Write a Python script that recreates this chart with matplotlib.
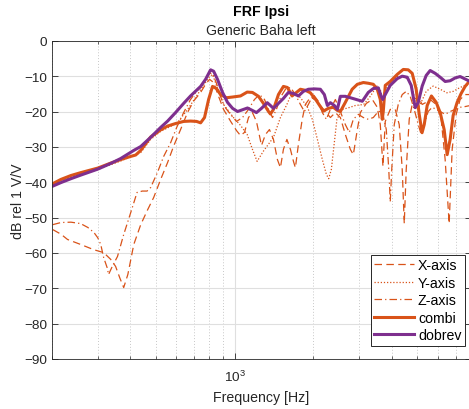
import matplotlib
matplotlib.use("Agg")
import matplotlib.pyplot as plt
from matplotlib.ticker import LogLocator, NullFormatter, FixedLocator

# ---- data (frequency in Hz, level in dB rel 1 V/V) ----
x_freq = [202, 217, 230, 258, 290, 316, 336, 351, 364, 377, 391, 412, 438, 466, 491,
          522, 555, 585, 622, 661, 697, 742, 775, 803, 832, 869, 908, 965, 1018, 1054,
          1092, 1131, 1171, 1213, 1268, 1313, 1360, 1409, 1459, 1498, 1538, 1586, 1636,
          1680, 1709, 1755, 1815, 1866, 1950, 2038, 2129, 2225, 2325, 2430, 2539, 2653,
          2772, 2846, 2948, 3027, 3190, 3364, 3514, 3608, 3694, 3770, 3939, 4116, 4263,
          4377, 4456, 4534, 4655, 4821, 5041, 5218, 5405, 5598, 5901, 6167, 6387, 6616,
          6793, 7036, 7287, 7614, 7957]
x_db = [-53.4, -54.7, -56.2, -57.6, -59.1, -59.9, -61.8, -63.8, -67.0, -69.8, -66.1,
        -57.6, -52.0, -47.7, -44.3, -39.2, -34.4, -29.8, -25.1, -20.3, -17.1, -14.6,
        -12.3, -10.9, -11.8, -15.7, -19.4, -22.7, -25.4, -26.8, -25.9, -21.7, -20.3,
        -22.8, -29.6, -26.5, -25.1, -27.9, -33.6, -35.9, -30.7, -27.9, -30.7, -34.1,
        -35.9, -29.3, -22.2, -18.0, -16.0, -16.6, -18.3, -20.0, -21.7, -20.3, -21.7,
        -26.5, -30.7, -32.2, -25.1, -20.3, -17.7, -16.6, -18.8, -23.7, -35.5, -22.8,
        -19.4, -19.4, -23.7, -36.4, -51.7, -36.4, -22.2, -16.6, -16.0, -18.0, -17.4,
        -16.6, -18.0, -22.2, -33.6, -51.7, -30.7, -20.8, -16.6, -15.2, -15.2]

y_freq = [202, 237, 300, 367, 438, 478, 522, 570, 606, 631, 662, 710, 762, 803, 824,
          859, 908, 991, 1054, 1118, 1171, 1220, 1290, 1409, 1498, 1586, 1658, 1755,
          1894, 1983, 2060, 2167, 2245, 2291, 2345, 2463, 2584, 2736, 2897, 3118, 3304,
          3504, 3608, 3672, 3737, 3939, 4178, 4416, 4615, 4779, 4978, 5127, 5405, 5748,
          6113, 6484, 6853, 7287, 7614, 7957]
y_db = [-40.8, -38.5, -36.4, -34.0, -31.6, -27.9, -25.6, -24.2, -23.1, -21.4, -19.4,
        -16.0, -12.6, -10.1, -9.5, -13.2, -18.0, -21.7, -23.9, -26.5, -30.7, -34.1,
        -31.2, -27.3, -21.7, -18.0, -14.6, -15.4, -18.5, -22.2, -27.0, -33.6, -37.8,
        -39.0, -36.4, -22.2, -19.4, -18.9, -18.3, -18.0, -15.7, -12.8, -13.7, -16.6,
        -14.3, -12.0, -10.1, -10.1, -10.9, -13.2, -19.4, -18.0, -14.3, -12.8, -13.7,
        -14.7, -14.3, -13.2, -12.6, -12.3]

z_freq = [202, 217, 237, 258, 275, 290, 300, 308, 316, 326, 330, 341, 357, 377, 401,
          424, 444, 463, 478, 507, 536, 570, 601, 639, 679, 716, 742, 775, 803, 824,
          853, 884, 916, 965, 1018, 1073, 1131, 1192, 1246, 1302, 1349, 1397, 1446,
          1498, 1566, 1636, 1709, 1786, 1850, 1916, 2002, 2092, 2167, 2245, 2325, 2430,
          2539, 2653, 2747, 2846, 2974, 3108, 3246, 3393, 3545, 3672, 3804, 3888, 3939,
          3991, 4080, 4226, 4377, 4534, 4696, 4864, 5041, 5172, 5312, 5500, 5698, 5901,
          6113, 6387, 6674, 6974, 7287, 7614, 7957]
z_db = [-52.0, -51.4, -51.3, -51.7, -52.8, -54.2, -55.7, -57.6, -61.3, -64.2, -66.1,
        -63.8, -61.0, -54.8, -48.6, -42.9, -42.5, -42.5, -41.5, -37.3, -32.7, -28.8,
        -24.5, -20.3, -16.6, -14.3, -13.2, -10.9, -9.2, -9.2, -12.0, -15.7, -18.6,
        -20.8, -22.8, -21.7, -19.4, -16.6, -15.2, -16.6, -19.4, -21.7, -19.4, -16.0,
        -13.7, -13.2, -15.2, -18.0, -20.0, -18.0, -15.2, -17.1, -20.3, -22.2, -19.4,
        -16.6, -20.0, -23.7, -25.9, -22.2, -20.8, -21.7, -22.2, -21.7, -20.0, -20.0,
        -25.1, -36.4, -45.5, -36.4, -23.7, -18.0, -15.2, -14.3, -15.7, -19.4, -23.7,
        -26.5, -23.7, -20.0, -18.8, -19.4, -20.0, -20.8, -20.0, -19.4, -18.8, -18.6,
        -18.3]

combi_freq = [202, 217, 237, 258, 300, 336, 367, 401, 419, 438, 478, 522, 555, 595,
              639, 679, 716, 742, 768, 796, 824, 853, 884, 932, 983, 1054, 1118, 1171,
              1235, 1290, 1349, 1372, 1409, 1472, 1538, 1593, 1660, 1725, 1786, 1866,
              1950, 2056, 2186, 2285, 2387, 2473, 2539, 2653, 2817, 2948, 3108, 3246,
              3393, 3514, 3608, 3672, 3704, 3770, 3939, 4189, 4416, 4615, 4779, 4950,
              5083, 5212, 5312, 5452, 5660, 5901, 6113, 6331, 6501, 6674, 6853, 7098,
              7351, 7614, 7957]
combi_db = [-40.4, -39.2, -38.1, -37.3, -36.0, -34.6, -33.6, -32.7, -32.3, -31.0,
            -27.2, -25.2, -24.1, -23.4, -22.8, -22.7, -22.8, -23.2, -21.7, -16.6,
            -12.9, -13.5, -15.2, -16.1, -15.9, -15.6, -14.5, -14.6, -15.7, -17.7,
            -20.0, -20.7, -19.4, -15.2, -12.9, -13.2, -15.6, -14.6, -13.7, -14.0,
            -14.7, -16.9, -19.9, -19.1, -18.8, -19.7, -20.0, -17.4, -13.7, -12.3,
            -11.8, -12.0, -12.3, -13.7, -16.6, -22.2, -20.0, -12.6, -11.5, -9.5,
            -8.1, -8.2, -9.2, -13.7, -20.8, -26.0, -23.7, -18.3, -15.6, -17.4, -20.3,
            -25.1, -32.2, -27.9, -21.1, -17.4, -14.9, -12.9, -11.2]

dobrev_freq = [202, 217, 237, 258, 300, 336, 367, 412, 438, 478, 522, 555, 595, 639,
               679, 742, 775, 810, 832, 861, 900, 940, 983, 1027, 1073, 1121, 1171,
               1213, 1268, 1334, 1372, 1409, 1472, 1538, 1607, 1680, 1755, 1834, 1916,
               2019, 2129, 2205, 2265, 2325, 2408, 2473, 2539, 2653, 2772, 2922, 3080,
               3246, 3393, 3545, 3640, 3688, 3770, 3939, 4189, 4377, 4574, 4737, 4906,
               5041, 5218, 5405, 5598, 5850, 6113, 6387, 6674, 6974, 7287, 7614, 7957]
dobrev_db = [-41.1, -40.1, -39.0, -38.0, -36.3, -34.7, -33.3, -31.0, -29.9, -27.3,
             -24.5, -22.7, -20.3, -17.7, -15.6, -12.9, -10.9, -8.2, -8.6, -10.9,
             -14.6, -17.4, -19.1, -20.0, -19.5, -19.0, -19.7, -20.3, -19.1, -17.5,
             -18.3, -19.1, -17.7, -16.3, -14.6, -14.9, -15.6, -14.3, -13.7, -13.6,
             -13.7, -15.2, -18.3, -17.5, -18.3, -19.4, -15.7, -15.7, -16.1, -16.6,
             -17.1, -14.6, -13.5, -13.3, -15.7, -16.6, -15.2, -12.6, -10.7, -10.0,
             -10.3, -12.6, -18.9, -17.4, -12.8, -9.8, -8.4, -9.2, -10.3, -11.5, -11.3,
             -10.5, -10.1, -10.8, -11.5]

orange = '#D95319'
purple = '#7E2F8E'
dark = '#262626'

plt.rcParams['font.family'] = ['Liberation Sans', 'DejaVu Sans']
plt.rcParams['font.size'] = 9.7

fig = plt.figure(figsize=(4.69, 4.10), dpi=100)
ax = fig.add_axes([0.1102, 0.122, 0.8935, 0.776])

ax.plot(x_freq, x_db, color=orange, lw=0.9, ls=(0, (6, 3.5)), label='X-axis')
ax.plot(y_freq, y_db, color=orange, lw=0.9, ls=(0, (1, 1.5)), label='Y-axis')
ax.plot(z_freq, z_db, color=orange, lw=0.9, ls=(0, (6, 2.5, 1, 2.5)), label='Z-axis')
ax.plot(combi_freq, combi_db, color=orange, lw=2.2, label='combi')
ax.plot(dobrev_freq, dobrev_db, color=purple, lw=2.2, label='dobrev')

ax.set_xscale('log')
ax.set_xlim(200, 8000)
ax.set_ylim(-90, 0)
ax.set_yticks(range(-90, 1, 10))
ax.xaxis.set_major_locator(FixedLocator([1000]))
ax.xaxis.set_minor_locator(LogLocator(base=10, subs=range(2, 10)))
ax.xaxis.set_minor_formatter(NullFormatter())

ax.grid(True, which='major', color='#dfdfdf', lw=0.8, ls='-')
ax.grid(True, which='minor', axis='x', color='#c8c8c8', lw=0.7, ls=(0, (1, 2)))
ax.set_axisbelow(True)

ax.tick_params(which='both', direction='in', top=True, right=True, colors=dark,
               labelcolor=dark)
ax.tick_params(which='major', length=4, width=0.6)
ax.tick_params(which='minor', length=2.5, width=0.5)
ax.tick_params(axis='x', which='major', pad=7)
for s in ax.spines.values():
    s.set_color(dark)
    s.set_linewidth(0.6)

ax.set_xlabel('Frequency [Hz]', fontsize=10.2, color=dark, labelpad=4.5)
ax.set_ylabel('dB rel 1 V/V', fontsize=10.2, color=dark, labelpad=-0.5)

fig.text(0.557, 0.97, 'FRF Ipsi', ha='center', va='center', fontsize=10.2,
         fontweight='bold', color='black')
fig.text(0.557, 0.924, 'Generic Baha left', ha='center', va='center', fontsize=10.2,
         color=dark)

leg = ax.legend(loc='lower right', bbox_to_anchor=(0.9915, 0.1537),
                bbox_transform=fig.transFigure, fontsize=10.2, frameon=True,
                fancybox=False, framealpha=1, edgecolor=dark, borderaxespad=0,
                handlelength=2.8, handletextpad=0.3, labelspacing=0.25,
                borderpad=0.25)
leg.get_frame().set_linewidth(0.7)

fig.savefig('out.png', dpi=100)
